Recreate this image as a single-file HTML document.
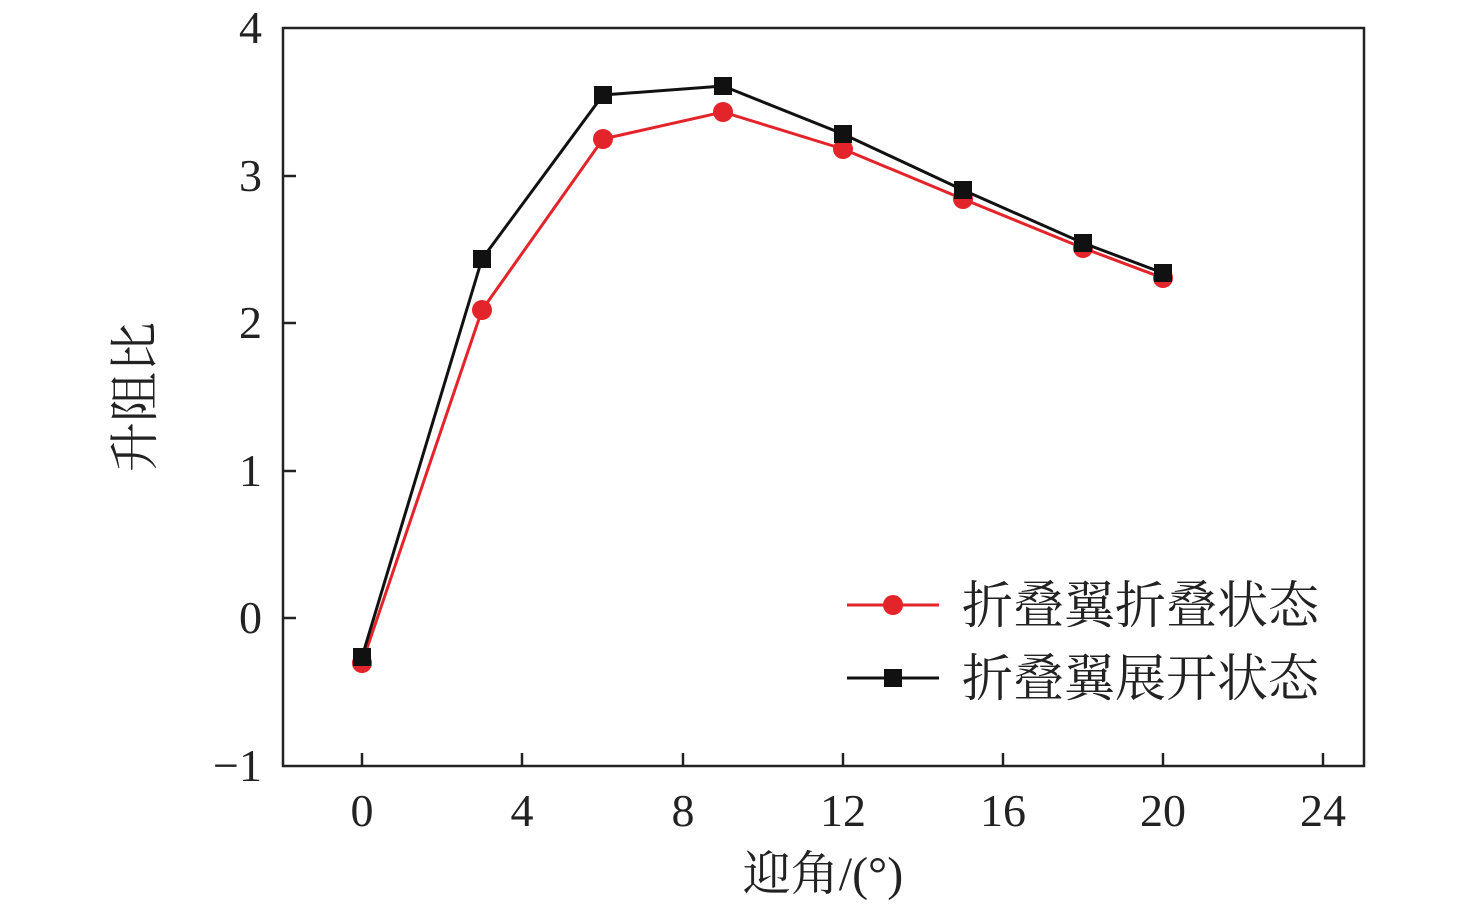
<!DOCTYPE html>
<html><head><meta charset="utf-8"><style>body{margin:0;background:#fff}svg{display:block}text{font-family:"Liberation Serif","Noto Serif CJK SC",serif}</style></head><body>
<svg width="1476" height="906" xmlns="http://www.w3.org/2000/svg">
<rect width="1476" height="906" fill="#fff"/>
<rect x="283" y="28" width="1081" height="738" fill="none" stroke="#222" stroke-width="2.5"/>
<g stroke="#222" stroke-width="2.5">
<line x1="283" y1="176" x2="296" y2="176"/><line x1="283" y1="323" x2="296" y2="323"/><line x1="283" y1="471" x2="296" y2="471"/><line x1="283" y1="618" x2="296" y2="618"/>
<line x1="362" y1="766" x2="362" y2="753"/><line x1="522" y1="766" x2="522" y2="753"/><line x1="683" y1="766" x2="683" y2="753"/><line x1="843" y1="766" x2="843" y2="753"/><line x1="1003" y1="766" x2="1003" y2="753"/><line x1="1163" y1="766" x2="1163" y2="753"/><line x1="1323" y1="766" x2="1323" y2="753"/>
</g>
<g font-size="46" fill="#222" text-anchor="end">
<text x="262" y="43">4</text><text x="262" y="191">3</text><text x="262" y="338">2</text><text x="262" y="486">1</text><text x="262" y="633">0</text><text x="262" y="781">−1</text>
</g>
<g font-size="46" fill="#222" text-anchor="middle">
<text x="362" y="826">0</text><text x="522" y="826">4</text><text x="683" y="826">8</text><text x="843" y="826">12</text><text x="1003" y="826">16</text><text x="1163" y="826">20</text><text x="1323" y="826">24</text>
<text x="823" y="890" font-size="48">迎角/(°)</text>
</g>
<text transform="translate(152,397) rotate(-90)" font-size="50" fill="#222" text-anchor="middle">升阻比</text>
<polyline fill="none" stroke="#e3242b" stroke-width="3" points="362,663 482,310 603,139 723,112 843,149 963,199 1083,248 1163,278"/>
<g fill="#e3242b">
<circle cx="362" cy="663" r="10"/><circle cx="482" cy="310" r="10"/><circle cx="603" cy="139" r="10"/><circle cx="723" cy="112" r="10"/><circle cx="843" cy="149" r="10"/><circle cx="963" cy="199" r="10"/><circle cx="1083" cy="248" r="10"/><circle cx="1163" cy="278" r="10"/>
</g>
<polyline fill="none" stroke="#111" stroke-width="3" points="362,657 482,259 603,95 723,86 843,134 963,190 1083,243 1163,273"/>
<g fill="#111">
<rect x="353" y="648" width="18" height="18"/><rect x="473" y="250" width="18" height="18"/><rect x="594" y="86" width="18" height="18"/><rect x="714" y="77" width="18" height="18"/><rect x="834" y="125" width="18" height="18"/><rect x="954" y="181" width="18" height="18"/><rect x="1074" y="234" width="18" height="18"/><rect x="1154" y="264" width="18" height="18"/>
</g>
<line x1="847" y1="605" x2="939" y2="605" stroke="#e3242b" stroke-width="3"/>
<circle cx="893" cy="605" r="10" fill="#e3242b"/>
<line x1="847" y1="678" x2="939" y2="678" stroke="#111" stroke-width="3"/>
<rect x="884" y="669" width="18" height="18" fill="#111"/>
<g font-size="51" fill="#222">
<text x="962" y="623">折叠翼折叠状态</text>
<text x="962" y="696">折叠翼展开状态</text>
</g>
</svg>
</body></html>
